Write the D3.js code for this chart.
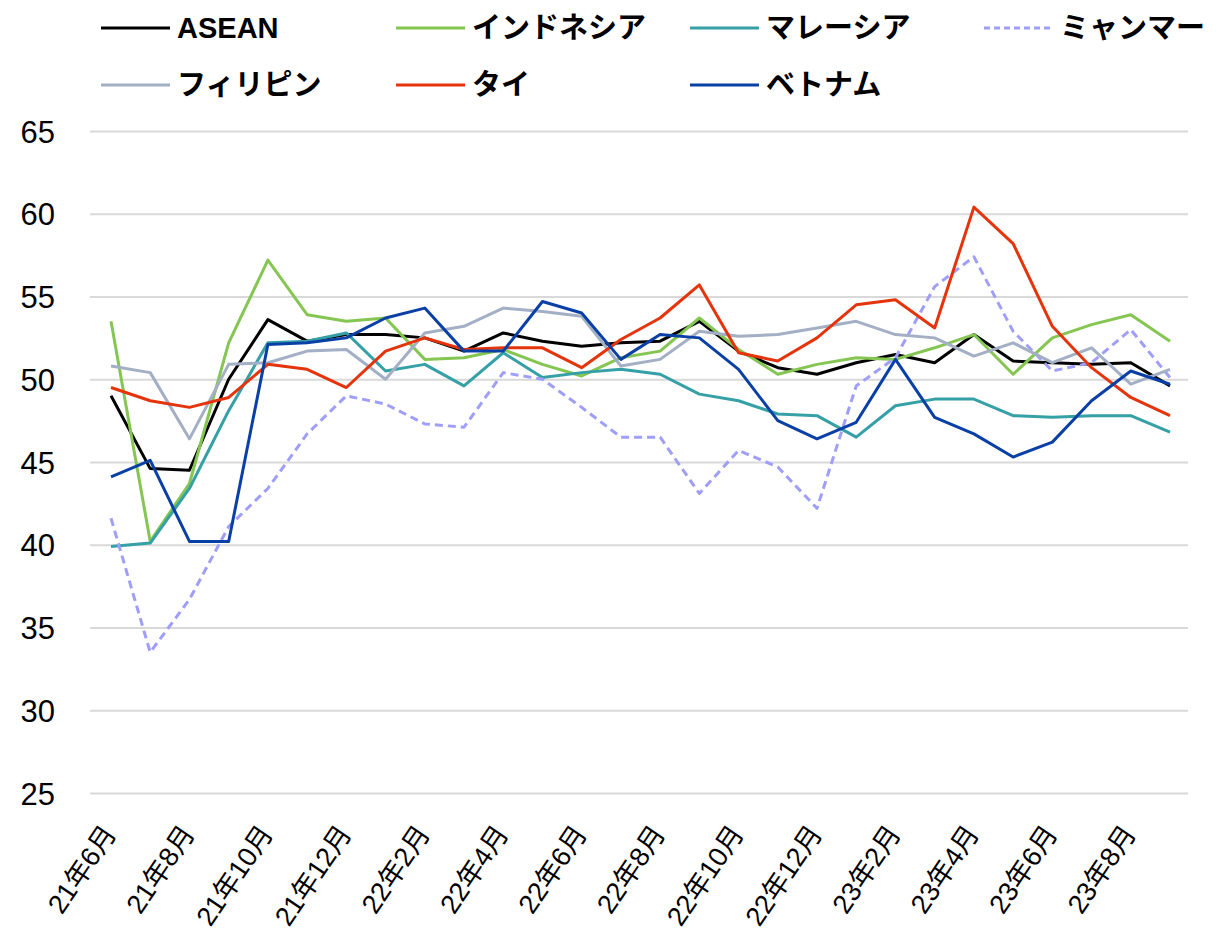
<!DOCTYPE html>
<html>
<head>
<meta charset="utf-8">
<script src="https://cdn.jsdelivr.net/npm/d3@7"></script>
<style>
  html, body { margin: 0; padding: 0; background: #fff; }
  svg { display: block; }
</style>
</head>
<body>
<svg id="chart" width="1221" height="933"></svg>
<script>
const months = ["21年6月","21年7月","21年8月","21年9月","21年10月","21年11月","21年12月",
  "22年1月","22年2月","22年3月","22年4月","22年5月","22年6月","22年7月","22年8月","22年9月","22年10月","22年11月","22年12月",
  "23年1月","23年2月","23年3月","23年4月","23年5月","23年6月","23年7月","23年8月","23年9月"];
const tickLabels = ["21年6月","21年8月","21年10月","21年12月","22年2月","22年4月","22年6月","22年8月","22年10月","22年12月","23年2月","23年4月","23年6月","23年8月"];
const yTicks = [25,30,35,40,45,50,55,60,65];

const seriesNames = ["ASEAN","インドネシア","マレーシア","ミャンマー","フィリピン","タイ","ベトナム"];
const seriesColors = ["#000000","#84C651","#35A0A6","#9F9EFA","#A3AFC5","#E5340C","#0A40A6"];

const asean = [49.0,44.6,44.5,50.0,53.6,52.3,52.7,52.7,52.5,51.7,52.8,52.3,52.0,52.2,52.3,53.5,51.7,50.7,50.3,51.0,51.5,51.0,52.7,51.1,51.0,50.9,51.0,49.6];
const indonesia = [53.5,40.2,43.7,52.2,57.2,53.9,53.5,53.7,51.2,51.3,51.8,50.9,50.2,51.3,51.7,53.7,51.8,50.3,50.9,51.3,51.2,51.9,52.7,50.3,52.5,53.3,53.9,52.3];
const malaysia = [39.9,40.1,43.4,48.1,52.2,52.3,52.8,50.5,50.9,49.6,51.6,50.1,50.4,50.6,50.3,49.1,48.7,47.9,47.8,46.5,48.4,48.8,48.8,47.8,47.7,47.8,47.8,46.8];
const myanmar = [41.6,33.5,36.7,41.1,43.4,46.7,49.0,48.5,47.3,47.1,50.4,50.0,48.3,46.5,46.5,43.1,45.7,44.7,42.2,49.6,51.3,55.6,57.4,52.9,50.5,51.0,53.0,50.1];
const philippines = [50.8,50.4,46.4,50.9,51.0,51.7,51.8,50.0,52.8,53.2,54.3,54.1,53.8,50.8,51.2,52.9,52.6,52.7,53.1,53.5,52.7,52.5,51.4,52.2,51.0,51.9,49.7,50.6];
const thailand = [49.5,48.7,48.3,48.9,50.9,50.6,49.5,51.7,52.5,51.8,51.9,51.9,50.7,52.4,53.7,55.7,51.6,51.1,52.5,54.5,54.8,53.1,60.4,58.2,53.2,50.7,48.9,47.8];
const vietnam = [44.1,45.1,40.2,40.2,52.1,52.2,52.5,53.7,54.3,51.7,51.7,54.7,54.0,51.2,52.7,52.5,50.6,47.5,46.4,47.4,51.2,47.7,46.7,45.3,46.2,48.7,50.5,49.7];

const seriesValues = [asean, indonesia, malaysia, myanmar, philippines, thailand, vietnam];
const seriesDash = [null, null, null, "8,5", null, null, null];

const svg = d3.select("#chart");
const latin = "'Liberation Sans', Arial, 'Noto Sans CJK JP', sans-serif";

const x = d3.scalePoint().domain(months).range([111, 1170]);
const y = d3.scaleLinear().domain([25, 65]).range([793, 131]);

// gridlines
svg.append("g")
  .attr("transform", "translate(90,0)")
  .call(d3.axisLeft(y).tickValues(yTicks).tickSize(-1098).tickFormat(""))
  .call(g => g.select(".domain").remove())
  .call(g => g.selectAll("line").attr("stroke", "#d9d9d9").attr("stroke-width", 2));

// y labels
svg.append("g")
  .attr("transform", "translate(55,0)")
  .call(d3.axisLeft(y).tickValues(yTicks).tickSize(0).tickPadding(0))
  .call(g => g.select(".domain").remove())
  .call(g => g.selectAll("text")
    .attr("font-family", latin).attr("font-size", 31).attr("fill", "#000")
    .attr("text-anchor", "end").attr("dy", "0.36em"));

// x labels
const xAxis = svg.append("g")
  .attr("transform", "translate(-2,828)")
  .call(d3.axisBottom(x).tickValues(tickLabels).tickSize(0).tickPadding(0))
  .call(g => g.select(".domain").remove());
xAxis.selectAll("text")
  .attr("font-family", latin).attr("font-size", 27).attr("fill", "#000")
  .attr("text-anchor", "end")
  .attr("y", 0).attr("dy", "0.35em")
  .attr("transform", "rotate(-56)");

// lines
const line = d3.line().x((d, i) => x(months[i])).y(d => y(d));
seriesValues.forEach((vals, k) => {
  svg.append("path")
    .datum(vals)
    .attr("fill", "none")
    .attr("stroke", seriesColors[k])
    .attr("stroke-width", 3)
    .attr("stroke-linejoin", "round")
    .attr("stroke-dasharray", seriesDash[k])
    .attr("d", line);
});

// legend
const legendPos = [[101,28],[396,28],[690,28],[984,28],[101,85],[396,85],[690,85]];
seriesNames.forEach((name, k) => {
  const [lx, ly] = legendPos[k];
  svg.append("line")
    .attr("x1", lx).attr("x2", lx + 69).attr("y1", ly).attr("y2", ly)
    .attr("stroke", seriesColors[k]).attr("stroke-width", 3)
    .attr("stroke-dasharray", seriesDash[k] ? "6,4" : null);
  svg.append("text")
    .attr("x", lx + 76).attr("y", ly).attr("dy", "0.36em")
    .attr("font-family", latin).attr("font-weight", "bold").attr("font-size", 29)
    .attr("fill", "#000")
    .text(name);
});
</script>
</body>
</html>
